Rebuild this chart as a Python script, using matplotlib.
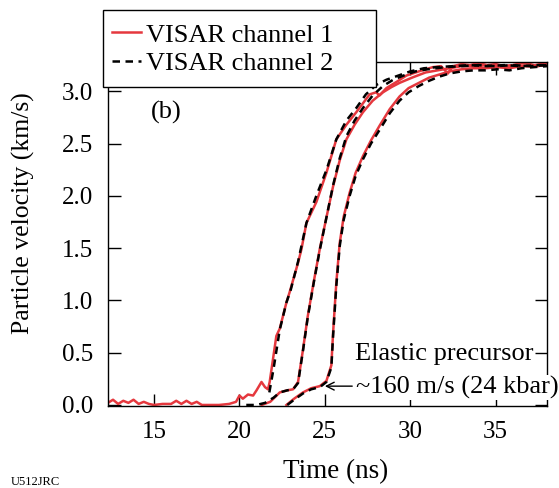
import matplotlib
import numpy as np

matplotlib.use("Agg")
import matplotlib.pyplot as plt  # noqa: E402
from matplotlib.patches import Rectangle  # noqa: E402

plt.rcParams["font.family"] = ["Liberation Serif", "DejaVu Serif"]

RED = "#e5383e"
W, H = 559, 488

# trace 1 (earliest arrival)
t1_red = [12.3, 12.6, 12.9, 13.2, 13.5, 13.8, 14.1, 14.4, 14.7, 15.0, 15.5, 16.0, 16.3,
          16.6, 16.9, 17.2, 17.5, 17.8, 18.2, 18.8, 19.4, 19.8, 20.0, 20.2, 20.5, 20.8,
          21.0, 21.29, 21.5, 21.67, 21.77, 22.16, 22.36, 22.75, 22.94, 23.43, 23.63,
          23.92, 24.5, 25.09, 25.67, 26.26, 26.84, 27.62, 28.0, 28.2, 28.6, 29.2, 29.77,
          30.5, 31.3, 31.8, 32.2, 32.5, 33.0, 33.5, 34.0, 34.5, 35.0, 35.5, 36.0, 36.5,
          37.0, 37.5, 38.0]
v1_red = [0.02, 0.05, 0.01, 0.04, 0.02, 0.05, 0.01, 0.03, 0.01, 0.0, 0.01, 0.01, 0.04,
          0.01, 0.04, 0.01, 0.03, 0.0, 0.0, 0.0, 0.01, 0.03, 0.09, 0.06, 0.1, 0.09,
          0.14, 0.22, 0.17, 0.15, 0.22, 0.66, 0.73, 0.98, 1.08, 1.36, 1.49,
          1.74, 1.94, 2.22, 2.54, 2.68, 2.80, 2.97, 2.99, 2.96, 3.03, 3.09, 3.15,
          3.19, 3.23, 3.24, 3.17, 3.24, 3.26, 3.25, 3.27, 3.25, 3.26, 3.24, 3.25, 3.27,
          3.26, 3.24, 3.27]
t1_blk = [21.75, 22.0, 22.36, 22.75, 23.0, 23.43, 23.92, 24.5, 25.1, 25.67, 26.26, 26.84,
          27.4, 28.0, 28.6, 29.3, 30.0, 30.8, 31.5, 32.5, 33.5, 34.5, 35.5, 36.5, 37.5, 38.0]
v1_blk = [0.12, 0.35, 0.72, 0.98, 1.1, 1.37, 1.74, 2.0, 2.25, 2.54, 2.72, 2.84,
          2.97, 3.06, 3.11, 3.15, 3.19, 3.22, 3.23, 3.24, 3.25, 3.24, 3.25, 3.24, 3.25, 3.25]

# trace 2
t2_red = [21.3, 21.8, 22.36, 22.8, 23.14, 23.43, 23.72, 24.0, 24.35, 24.7, 25.1, 25.48,
          25.87, 26.26, 26.74, 27.23, 27.8, 28.4, 28.9, 29.37, 30.1, 30.9, 31.6, 32.3,
          33.0, 33.8, 34.6, 35.4, 36.2, 37.0, 37.6, 38.0]
v2_red = [0.0, 0.03, 0.12, 0.14, 0.15, 0.22, 0.53, 0.85, 1.18, 1.49, 1.8, 2.09,
          2.34, 2.54, 2.68, 2.80, 2.91, 2.99, 3.04, 3.08, 3.13, 3.18, 3.2, 3.22,
          3.24, 3.24, 3.25, 3.24, 3.25, 3.24, 3.26, 3.25]
t2_blk = [20.4, 21.0, 21.5, 22.0, 22.36, 22.8, 23.14, 23.43, 23.72, 24.0, 24.35, 24.7,
          25.1, 25.48, 25.87, 26.26, 26.74, 27.23, 27.8, 28.4, 29.0, 29.6, 30.3, 31.0,
          32.0, 33.0, 34.0, 35.0, 36.0, 37.0, 38.0]
v2_blk = [0.0, 0.0, 0.02, 0.07, 0.12, 0.14, 0.15, 0.21, 0.52, 0.84, 1.17, 1.48,
          1.8, 2.1, 2.36, 2.57, 2.72, 2.84, 2.96, 3.05, 3.11, 3.15, 3.19, 3.21,
          3.23, 3.24, 3.25, 3.24, 3.25, 3.24, 3.25]

# trace 3 (latest arrival)
t3_red = [22.75, 23.2, 23.72, 24.2, 24.7, 25.09, 25.38, 25.48, 25.67, 25.87, 26.1,
          26.45, 26.8, 27.23, 27.7, 28.2, 28.8, 29.37, 29.9, 30.5, 31.1, 31.7, 32.3,
          33.0, 33.7, 34.4, 35.1, 35.8, 36.5, 37.2, 38.0]
v3_red = [0.0, 0.06, 0.12, 0.16, 0.18, 0.23, 0.38, 0.69, 1.17, 1.55, 1.8,
          2.03, 2.22, 2.38, 2.53, 2.67, 2.83, 2.95, 3.03, 3.08, 3.13, 3.16, 3.19,
          3.21, 3.22, 3.22, 3.23, 3.22, 3.24, 3.24, 3.25]
t3_blk = [22.8, 23.2, 23.72, 24.2, 24.7, 25.09, 25.38, 25.48, 25.67, 25.87, 26.1,
          26.45, 26.8, 27.23, 27.7, 28.2, 28.8, 29.37, 29.9, 30.5, 31.1, 31.7, 32.3,
          33.0, 33.7, 34.4, 35.1, 35.8, 36.5, 37.2, 38.0]
v3_blk = [0.0, 0.05, 0.11, 0.15, 0.17, 0.22, 0.36, 0.66, 1.14, 1.52, 1.77,
          2.0, 2.19, 2.35, 2.5, 2.63, 2.79, 2.91, 2.99, 3.05, 3.1, 3.14, 3.17,
          3.19, 3.2, 3.2, 3.21, 3.2, 3.22, 3.23, 3.24]

x_ticks = [15, 20, 25, 30, 35]
y_ticks = [0.0, 0.5, 1.0, 1.5, 2.0, 2.5, 3.0]

fig = plt.figure(figsize=(W / 100, H / 100), dpi=100)
ax = fig.add_axes([0.193, 0.168, 0.7855, 0.705])

red_traces = [(t1_red, v1_red), (t2_red, v2_red), (t3_red, v3_red)]
blk_traces = [(t1_blk, v1_blk), (t2_blk, v2_blk), (t3_blk, v3_blk)]
for i, (t, v) in enumerate(red_traces):
    ax.plot(t, v, color=RED, lw=1.8, label="VISAR channel 1" if i == 0 else None)
for i, (t, v) in enumerate(blk_traces):
    ax.plot(t, v, color="black", lw=1.8, dashes=(3, 2.2),
            label="VISAR channel 2" if i == 0 else None)

ax.set_xlim(12.3, 38.0)
ax.set_ylim(-0.01, 3.28)
ax.set_xticks(x_ticks)
ax.set_yticks(y_ticks)
ax.set_yticklabels([f"{y:.1f}" for y in y_ticks])
ax.tick_params(direction="in", length=9, width=1, labelsize=18,
               top=True, right=True, pad=10.5)
for s in ax.spines.values():
    s.set_linewidth(1)

ax.set_xlabel("Time (ns)", fontsize=19.5)
ax.xaxis.set_label_coords(0.519, -0.155)
ax.set_ylabel("Particle velocity (km/s)", fontsize=18.5)
ax.yaxis.set_label_coords(-0.166, 0.561)

ax.text(15.7, 2.80, "(b)", fontsize=19, ha="center", va="center")
ax.text(32.0, 0.49, "Elastic precursor", fontsize=19, ha="center", va="center")
ax.text(32.73, 0.17, "~160 m/s (24 kbar)", fontsize=19, ha="center", va="center",
        bbox=dict(facecolor="white", edgecolor="none", pad=0.5), zorder=5, clip_on=False)
ax.annotate("", xy=(25.0, 0.18), xytext=(26.6, 0.18),
            arrowprops=dict(arrowstyle="->", lw=1, color="black",
                            shrinkA=0, shrinkB=0, mutation_scale=14))

# legend box sits over the top-left corner of the axes
box = Rectangle((103 / W, 1 - 87 / H), (376 - 103) / W, (87 - 10) / H,
                transform=fig.transFigure, facecolor="white", edgecolor="black",
                lw=1, zorder=4)
fig.patches.append(box)
leg = fig.legend(loc="center left", bbox_to_anchor=(112 / W, 1 - 49 / H), fontsize=19,
                 frameon=False, handlelength=1.1, handletextpad=0.2, borderpad=0,
                 labelspacing=0.18, borderaxespad=0)
leg.set_zorder(6)

fig.text(0.02, 0.0, "U512JRC", fontsize=9, va="bottom", ha="left")

fig.savefig("out.png", dpi=100)
